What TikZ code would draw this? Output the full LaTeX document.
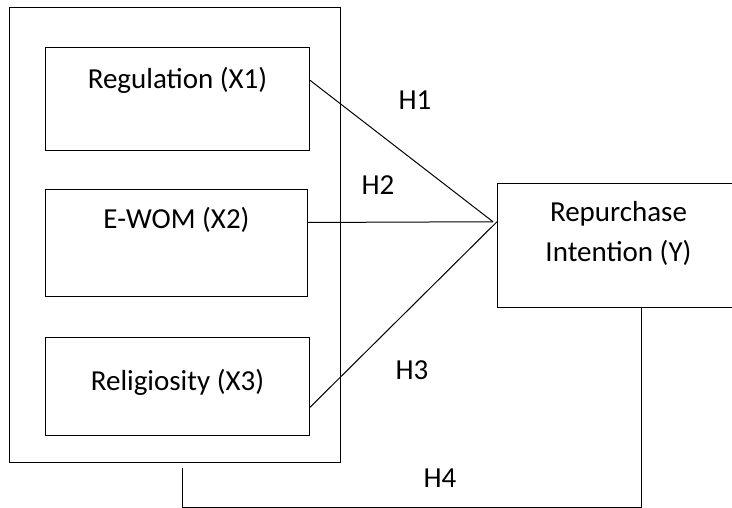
\documentclass[tikz,border=0pt]{standalone}
\usepackage{fontspec}
\setmainfont{Carlito}
\usetikzlibrary{positioning,calc}

\begin{document}
\begin{tikzpicture}[
  x=1pt, y=-1pt,
  box/.style={draw,line width=1pt,inner sep=0pt,anchor=north west},
  txt/.style={font=\fontsize{29}{40}\selectfont,align=center},
  link/.style={line width=1pt}
]
  \useasboundingbox (0,0) rectangle (732,508);

  % outer frame and variables
  \node[box,minimum width=331pt,minimum height=455pt] (frame) at (9,7) {};
  \node[box,minimum width=264pt,minimum height=103pt,
        label={[txt,anchor=center,yshift=-33pt]north:Regulation (X1)}] (reg) at (45,47) {};
  \node[box,minimum width=262pt,minimum height=107pt,
        label={[txt,anchor=center,yshift=-31pt]north:E-WOM (X2)}] (ewom) at (45,189) {};
  \node[box,minimum width=264pt,minimum height=98pt,
        label={[txt,anchor=center,yshift=-45pt]north:Religiosity (X3)}] (rel) at (45,337) {};
  \node[box,minimum width=242pt,minimum height=124pt,
        label={[txt,anchor=center,yshift=-50pt]north:Repurchase\\Intention (Y)}] (rep) at (497,183) {};

  \coordinate (hub) at ($(rep.north west)!0.31!(rep.south west)$);
  \coordinate (tip) at ($(hub)+(-4,0)$);
  \coordinate (h4a) at (182,468);
  \coordinate (h4b) at (641,507);

  \draw[link] ($(reg.north east)!0.32!(reg.south east)$) -- (tip);
  \draw[link] ($(ewom.north east)!0.31!(ewom.south east)$) -- (tip);
  \draw[link] ($(rel.north east)!0.71!(rel.south east)$) -- (hub);
  \draw[link] (h4a) |- (h4b) -- (h4b |- rep.south);

  % hypotheses
  \node[txt] (h1) at (415,100) {H1};
  \node[txt] (h2) at (378,185) {H2};
  \node[txt] (h3) at (412,370) {H3};
  \node[txt] (h4) at (440,478) {H4};
\end{tikzpicture}
\end{document}
